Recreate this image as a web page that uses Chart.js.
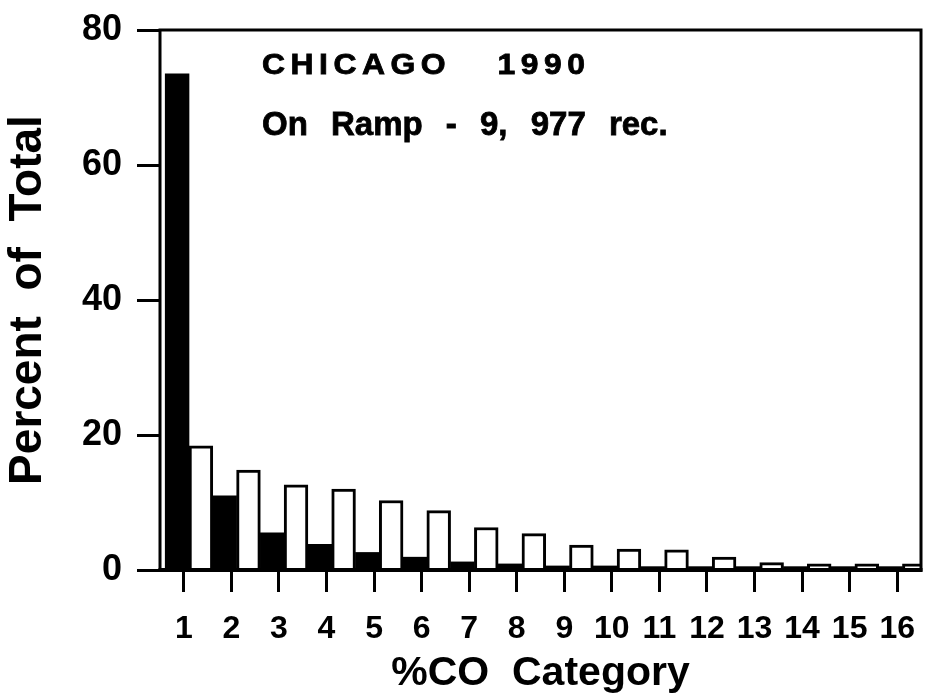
<!DOCTYPE html>
<html>
<head>
<meta charset="utf-8">
<script src="https://cdn.jsdelivr.net/npm/chart.js@4.4.0/dist/chart.umd.min.js"></script>
<style>
  html, body { margin: 0; padding: 0; background: #fff; }
  #wrap { width: 926px; height: 698px; }
</style>
</head>
<body>
<div id="wrap"><canvas id="chart" width="926" height="698"></canvas></div>
<script>
// %CO categories along the x axis
const categories = ['1', '2', '3', '4', '5', '6', '7', '8', '9', '10', '11', '12', '13', '14', '15', '16'];
// black bars (left of each pair)
const blackBars = [73.5, 11.0, 5.5, 3.8, 2.6, 1.9, 1.2, 0.9, 0.6, 0.6, 0.5, 0.5, 0.5, 0.5, 0.5, 0.5];
// white bars (right of each pair)
const whiteBars = [18.4, 14.8, 12.6, 12.0, 10.3, 8.8, 6.3, 5.4, 3.7, 3.1, 3.0, 1.9, 1.1, 0.9, 0.9, 0.9];
const yTicks = [0, 20, 40, 60, 80];
const noteLines = ['CHICAGO  1990', 'On Ramp - 9, 977 rec.'];

const FONT = "'Liberation Sans', Arial, Helvetica, sans-serif";
const BAR_SHIFT = 0.11; // bars sit a little right of the tick marks

const toPoints = vals => vals.map((v, i) => ({ x: i + 1 + BAR_SHIFT, y: v }));

// frame round the plot area, drawn over the bars
const framePlugin = {
  id: 'frame',
  afterDatasetsDraw(chart) {
    const { ctx, chartArea: a } = chart;
    ctx.save();
    ctx.strokeStyle = '#000';
    ctx.lineWidth = 3;
    ctx.strokeRect(a.left, a.top, a.right - a.left, a.bottom - a.top);
    ctx.lineWidth = 4;
    ctx.beginPath();
    ctx.moveTo(a.left - 1.5, a.bottom);
    ctx.lineTo(a.right + 1.5, a.bottom);
    ctx.stroke();
    ctx.restore();
  }
};

// the two note lines inside the plot (first one wide-set)
const notePlugin = {
  id: 'note',
  afterDraw(chart) {
    const { ctx, chartArea: a } = chart;
    const x0 = a.left + 102;
    ctx.save();
    ctx.fillStyle = '#000';
    ctx.strokeStyle = '#000';
    ctx.lineWidth = 0.8;
    ctx.textBaseline = 'alphabetic';
    ctx.textAlign = 'left';

    ctx.save();
    ctx.translate(x0, 74);
    ctx.scale(1.1, 1);
    ctx.font = 'bold 29px ' + FONT;
    ctx.letterSpacing = '5px';
    ctx.wordSpacing = '8px';
    ctx.fillText(noteLines[0], 0, 0);
    ctx.strokeText(noteLines[0], 0, 0);
    ctx.restore();

    ctx.font = 'bold 33px ' + FONT;
    ctx.letterSpacing = '0px';
    ctx.wordSpacing = '14px';
    ctx.fillText(noteLines[1], x0, 135);
    ctx.strokeText(noteLines[1], x0, 135);
    ctx.restore();
  }
};

new Chart(document.getElementById('chart'), {
  type: 'bar',
  data: {
    labels: categories,
    datasets: [
      {
        data: toPoints(blackBars),
        xAxisID: 'xb',
        backgroundColor: '#000',
        borderWidth: 0,
        clip: 0
      },
      {
        data: toPoints(whiteBars),
        xAxisID: 'xb',
        backgroundColor: '#fff',
        borderColor: '#000',
        borderWidth: 3,
        clip: 0
      }
    ]
  },
  options: {
    responsive: false,
    animation: false,
    categoryPercentage: 1.0,
    barPercentage: 1.0,
    layout: { padding: { top: 30, right: 5, left: 0, bottom: 0 } },
    plugins: { legend: { display: false }, tooltip: { enabled: false } },
    scales: {
      x: {
        type: 'category',
        labels: categories,
        offset: true,
        position: 'bottom',
        border: { display: false },
        grid: { offset: false, drawOnChartArea: false, drawTicks: true, tickLength: 22, tickWidth: 3, tickColor: '#000' },
        ticks: { color: '#000', font: { family: FONT, size: 32, weight: 'bold' }, padding: 18, maxRotation: 0, autoSkip: false },
        title: { display: true, text: '%CO  Category', color: '#000', font: { family: FONT, size: 41, weight: 'bold' }, padding: 0 },
        afterFit: s => { s.height = 128; s.paddingLeft = 0; s.paddingRight = 0; }
      },
      xb: {
        type: 'linear',
        min: 0.5,
        max: 16.5,
        offset: false,
        display: false,
        ticks: { stepSize: 1 },
        afterBuildTicks: s => { s.ticks = s.ticks.filter(t => Number.isInteger(t.value)); }
      },
      y: {
        min: yTicks[0],
        max: yTicks[yTicks.length - 1],
        border: { display: false },
        grid: { drawOnChartArea: false, drawTicks: true, tickLength: 23, tickWidth: 3, tickColor: '#000' },
        ticks: { stepSize: yTicks[1] - yTicks[0], color: '#000', font: { family: FONT, size: 36, weight: 'bold' }, padding: 15 },
        title: { display: true, text: 'Percent  of  Total', color: '#000', font: { family: FONT, size: 46, weight: 'bold' }, padding: { top: 1, bottom: 0 } },
        afterFit: s => { s.width = 160; s.paddingTop = 0; s.paddingBottom = 0; }
      }
    }
  },
  plugins: [framePlugin, notePlugin]
});
</script>
</body>
</html>
